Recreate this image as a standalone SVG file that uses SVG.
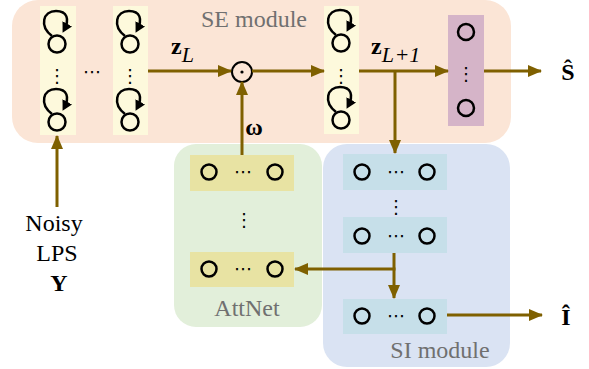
<svg xmlns="http://www.w3.org/2000/svg" xmlns:xlink="http://www.w3.org/1999/xlink" width="589" height="369" viewBox="0 0 589 369">
<style>
.conn{stroke:#7f6000;stroke-width:3;fill:none}
.neu{fill:none;stroke:#000;stroke-width:2.5}
.loop{fill:none;stroke:#000;stroke-width:2.5}
.lbl{font-family:"Liberation Serif","Times New Roman",serif;font-size:24px;fill:#000}
.glbl{font-family:"Liberation Serif","Times New Roman",serif;font-size:24px;fill:#707070}
.dots{font-family:"DejaVu Sans",sans-serif;font-size:18px;fill:#000;text-anchor:middle}
</style>
<defs>
<marker id="ah" markerUnits="userSpaceOnUse" markerWidth="14" markerHeight="12" refX="13" refY="6" orient="auto">
<path d="M0,0 L14,6 L0,12 z" fill="#7f6000"/>
</marker>
<marker id="lh" markerUnits="userSpaceOnUse" markerWidth="11" markerHeight="11" refX="7" refY="5.5" orient="auto">
<path d="M0,0 L10,5.5 L0,11 z" fill="#000"/>
</marker>
<g id="rn">
<circle cx="0" cy="0" r="8.5" class="neu"/>
<path d="M-5,-8 C-18,-18 -14,-33 -1,-33 C10,-33 13,-25 7,-14" class="loop" marker-end="url(#lh)"/>
</g>
</defs>

<g id="se-module">
<rect x="12" y="0" width="499" height="143" rx="26" fill="#fbe5d6"/>
<text x="254" y="27" class="glbl" text-anchor="middle">SE module</text>
</g>
<g id="attnet">
<rect x="174" y="144" width="148" height="183" rx="22" fill="#e2efda"/>
<text x="247" y="316" class="glbl" text-anchor="middle">AttNet</text>
</g>
<g id="si-module">
<rect x="323" y="144" width="187" height="223" rx="24" fill="#dae3f3"/>
<text x="440" y="358" class="glbl" text-anchor="middle">SI module</text>
</g>

<g id="rnn1">
<rect x="40" y="6" width="36" height="129" fill="#fdf9dc"/>
<use xlink:href="#rn" x="57" y="44"/>
<use xlink:href="#rn" x="57" y="122"/>
<text x="57" y="82" class="dots">⋮</text>
</g>
<text x="92" y="78" class="dots">⋯</text>
<g id="rnn2">
<rect x="113" y="6" width="35" height="129" fill="#fdf9dc"/>
<use xlink:href="#rn" x="130" y="44"/>
<use xlink:href="#rn" x="130" y="122"/>
<text x="130" y="82" class="dots">⋮</text>
</g>
<g id="rnn3">
<rect x="324" y="6" width="35" height="128" fill="#fdf9dc"/>
<use xlink:href="#rn" x="341" y="43"/>
<use xlink:href="#rn" x="341" y="120"/>
<text x="341" y="82" class="dots">⋮</text>
</g>
<g id="output-layer">
<rect x="448" y="15" width="36" height="111" fill="#d5b4c8"/>
<circle cx="466" cy="32" r="8" class="neu"/>
<circle cx="466" cy="108" r="8" class="neu"/>
<text x="466" y="80" class="dots">⋮</text>
</g>
<g id="mult">
<circle cx="242" cy="72" r="10" fill="none" stroke="#000" stroke-width="2"/>
<circle cx="242" cy="72" r="1.6" fill="#000"/>
</g>

<g id="att1">
<rect x="190" y="155" width="104" height="36" fill="#e8e3a3"/>
<circle cx="209" cy="172" r="7.5" class="neu"/>
<circle cx="275" cy="172" r="7.5" class="neu"/>
<text x="243" y="178" class="dots">⋯</text>
</g>
<text x="244" y="226" class="dots">⋮</text>
<g id="att2">
<rect x="190" y="252" width="104" height="35" fill="#e8e3a3"/>
<circle cx="209" cy="269" r="7.5" class="neu"/>
<circle cx="275" cy="269" r="7.5" class="neu"/>
<text x="243" y="275" class="dots">⋯</text>
</g>

<g id="si1">
<rect x="343" y="154" width="104" height="36" fill="#c6dfe9"/>
<circle cx="362" cy="172" r="7.5" class="neu"/>
<circle cx="427" cy="172" r="7.5" class="neu"/>
<text x="396" y="178" class="dots">⋯</text>
</g>
<text x="396" y="213" class="dots">⋮</text>
<g id="si2">
<rect x="343" y="217" width="104" height="36" fill="#c6dfe9"/>
<circle cx="362" cy="236" r="7.5" class="neu"/>
<circle cx="427" cy="236" r="7.5" class="neu"/>
<text x="396" y="242" class="dots">⋯</text>
</g>
<g id="si3">
<rect x="343" y="299" width="104" height="35" fill="#c6dfe9"/>
<circle cx="362" cy="316" r="7.5" class="neu"/>
<circle cx="427" cy="316" r="7.5" class="neu"/>
<text x="396" y="322" class="dots">⋯</text>
</g>

<g id="connectors">
<line x1="148" y1="71" x2="231" y2="71" class="conn" marker-end="url(#ah)"/>
<line x1="252" y1="71" x2="324" y2="71" class="conn" marker-end="url(#ah)"/>
<line x1="359" y1="71" x2="448" y2="71" class="conn" marker-end="url(#ah)"/>
<line x1="484" y1="71" x2="541" y2="71" class="conn" marker-end="url(#ah)"/>
<line x1="395" y1="71" x2="395" y2="153" class="conn" marker-end="url(#ah)"/>
<line x1="242" y1="155" x2="242" y2="82" class="conn" marker-end="url(#ah)"/>
<line x1="57" y1="207" x2="57" y2="136" class="conn" marker-end="url(#ah)"/>
<line x1="394" y1="253" x2="394" y2="298" class="conn" marker-end="url(#ah)"/>
<line x1="395.5" y1="269" x2="295" y2="269" class="conn" marker-end="url(#ah)"/>
<line x1="447" y1="315" x2="542" y2="315" class="conn" marker-end="url(#ah)"/>
</g>

<g id="labels">
<text x="171" y="54" class="lbl" font-weight="bold">z<tspan font-style="italic" font-weight="normal" font-size="22" dy="8">L</tspan></text>
<text x="371" y="54" class="lbl" font-weight="bold">z<tspan font-style="italic" font-weight="normal" font-size="22" dy="8">L</tspan><tspan font-weight="normal" font-size="22" dx="2">+</tspan><tspan font-style="italic" font-weight="normal" font-size="22" dx="1">1</tspan></text>
<text x="254" y="135" class="lbl" font-weight="bold" text-anchor="middle">ω</text>
<text x="568" y="80" class="lbl" font-weight="bold" text-anchor="middle">Ŝ</text>
<text x="566" y="325" class="lbl" font-weight="bold" text-anchor="middle">Î</text>
<text x="54" y="231" class="lbl" text-anchor="middle">Noisy</text>
<text x="57" y="261" class="lbl" text-anchor="middle">LPS</text>
<text x="59" y="291" class="lbl" font-weight="bold" text-anchor="middle">Y</text>
</g>
</svg>
